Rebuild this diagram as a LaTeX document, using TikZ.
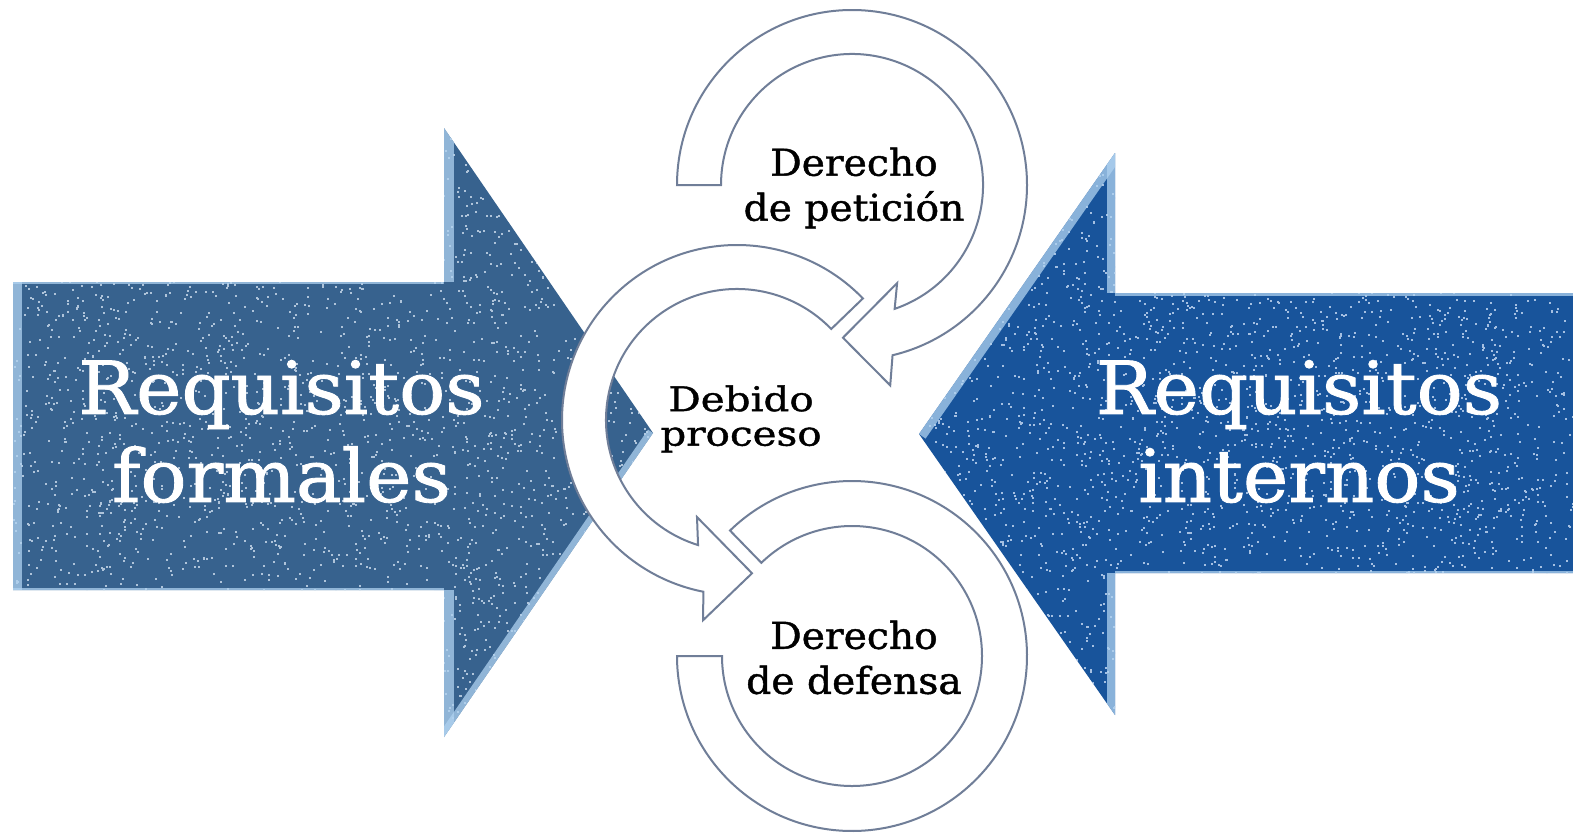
\documentclass[tikz,border=0pt]{standalone}
\usepackage{fontspec}
\setmainfont{DejaVu Serif}
\definecolor{leftblue}{RGB}{55,98,142}
\definecolor{rightblue}{RGB}{24,84,155}
\definecolor{ringline}{RGB}{112,126,152}
\definecolor{leftspeck}{RGB}{175,196,218}
\definecolor{rightspeck}{RGB}{165,192,226}
\definecolor{bevelblue}{RGB}{175,210,240}
\begin{document}
\begin{tikzpicture}[x=1pt,y=-1pt,
  ring/.style={fill=white, draw=ringline, line width=2pt, line join=miter},
  bigtext/.style={text=white, align=center, inner sep=0pt, font=\fontsize{73}{88}\selectfont\addfontfeatures{FakeStretch=1.05,FakeBold=1.2}},
  ringtext/.style={text=black, align=center, inner sep=0pt, font=\fontsize{37}{45}\selectfont\addfontfeatures{FakeStretch=1.06,FakeBold=1.2}},
  midtext/.style={text=black, align=center, inner sep=0pt, font=\fontsize{34}{34.5}\selectfont\addfontfeatures{FakeStretch=1.19,FakeBold=1.2}},
  bevelstrip/.style={draw=bevelblue, opacity=0.75}]
\useasboundingbox (0,0) rectangle (1573,833);
\fill[white] (0,0) rectangle (1573,833);

% left arrow
\def\leftarrowpath{(13,282) -- (444,282) -- (444,128) -- (653,433) -- (444,737) -- (444,590) -- (13,590) -- cycle}
\fill[leftblue] \leftarrowpath;
\begin{scope}
  \clip \leftarrowpath;
  \pgfmathsetseed{7}
  \foreach \i in {1,...,3500} \fill[leftspeck] ({13+640*rnd},{128+610*rnd}) rectangle ++(2,2);
  \draw[bevelstrip, line width=18pt] (13,282) -- (13,590);
  \draw[bevelstrip, line width=4pt] (13,282) -- (444,282);
  \draw[bevelstrip, line width=4pt] (13,590) -- (444,590);
  \draw[bevelstrip, line width=20pt] (444,128) -- (444,282);
  \draw[bevelstrip, line width=20pt] (444,590) -- (444,737);
  \draw[bevelstrip, line width=12pt] (653,433) -- (444,737);
\end{scope}

% right arrow
\def\rightarrowpath{(1573,293) -- (1115,293) -- (1115,153) -- (919,434) -- (1115,715) -- (1115,573) -- (1573,573) -- cycle}
\fill[rightblue] \rightarrowpath;
\begin{scope}
  \clip \rightarrowpath;
  \pgfmathsetseed{11}
  \foreach \i in {1,...,3500} \fill[rightspeck] ({919+654*rnd},{153+562*rnd}) rectangle ++(2,2);
  \draw[bevelstrip, line width=16pt] (1115,153) -- (919,434);
  \draw[bevelstrip, line width=16pt] (1115,153) -- (1115,293);
  \draw[bevelstrip, line width=16pt] (1115,573) -- (1115,715);
  \draw[bevelstrip, line width=5pt] (1115,293) -- (1573,293);
  \draw[bevelstrip, line width=5pt] (1115,573) -- (1573,573);
\end{scope}

% circular arrows
\begin{scope}[shift={(852,185)}]
  \draw[ring] (180:131) -- (180:175) arc[start angle=180, end angle=436.6, radius=175]
    -- (439.2:204) -- (453.4:153) -- (425.3:108) -- (431:131)
    arc[start angle=431, end angle=180, radius=131] -- cycle;
\end{scope}
\begin{scope}[shift={(737,420)}]
  \draw[ring] (316:131) -- (316:175) arc[start angle=316, end angle=101.1, radius=175]
    -- (99.6:203) -- (84.4:154) -- (112.4:105) -- (107.3:131)
    arc[start angle=107.3, end angle=316, radius=131] -- cycle;
\end{scope}
\begin{scope}[shift={(852,656)}]
  \draw[ring] (225.8:130) -- (225.8:175) arc[start angle=225.8, end angle=540, radius=175]
    -- (540:130) arc[start angle=540, end angle=225.8, radius=130] -- cycle;
\end{scope}

% texts
\node[bigtext] (formales) at (281.5,431.5) {Requisitos\\formales};
\node[bigtext] (internos) at (1299,431.5) {Requisitos\\internos};
\node[ringtext] (peticion) at (854,188) {Derecho\\de petición};
\node[midtext] (debido) at (741,419) {Debido\\proceso};
\node[ringtext] (defensa) at (854,657.5) {Derecho\\de defensa};
\end{tikzpicture}
\end{document}
